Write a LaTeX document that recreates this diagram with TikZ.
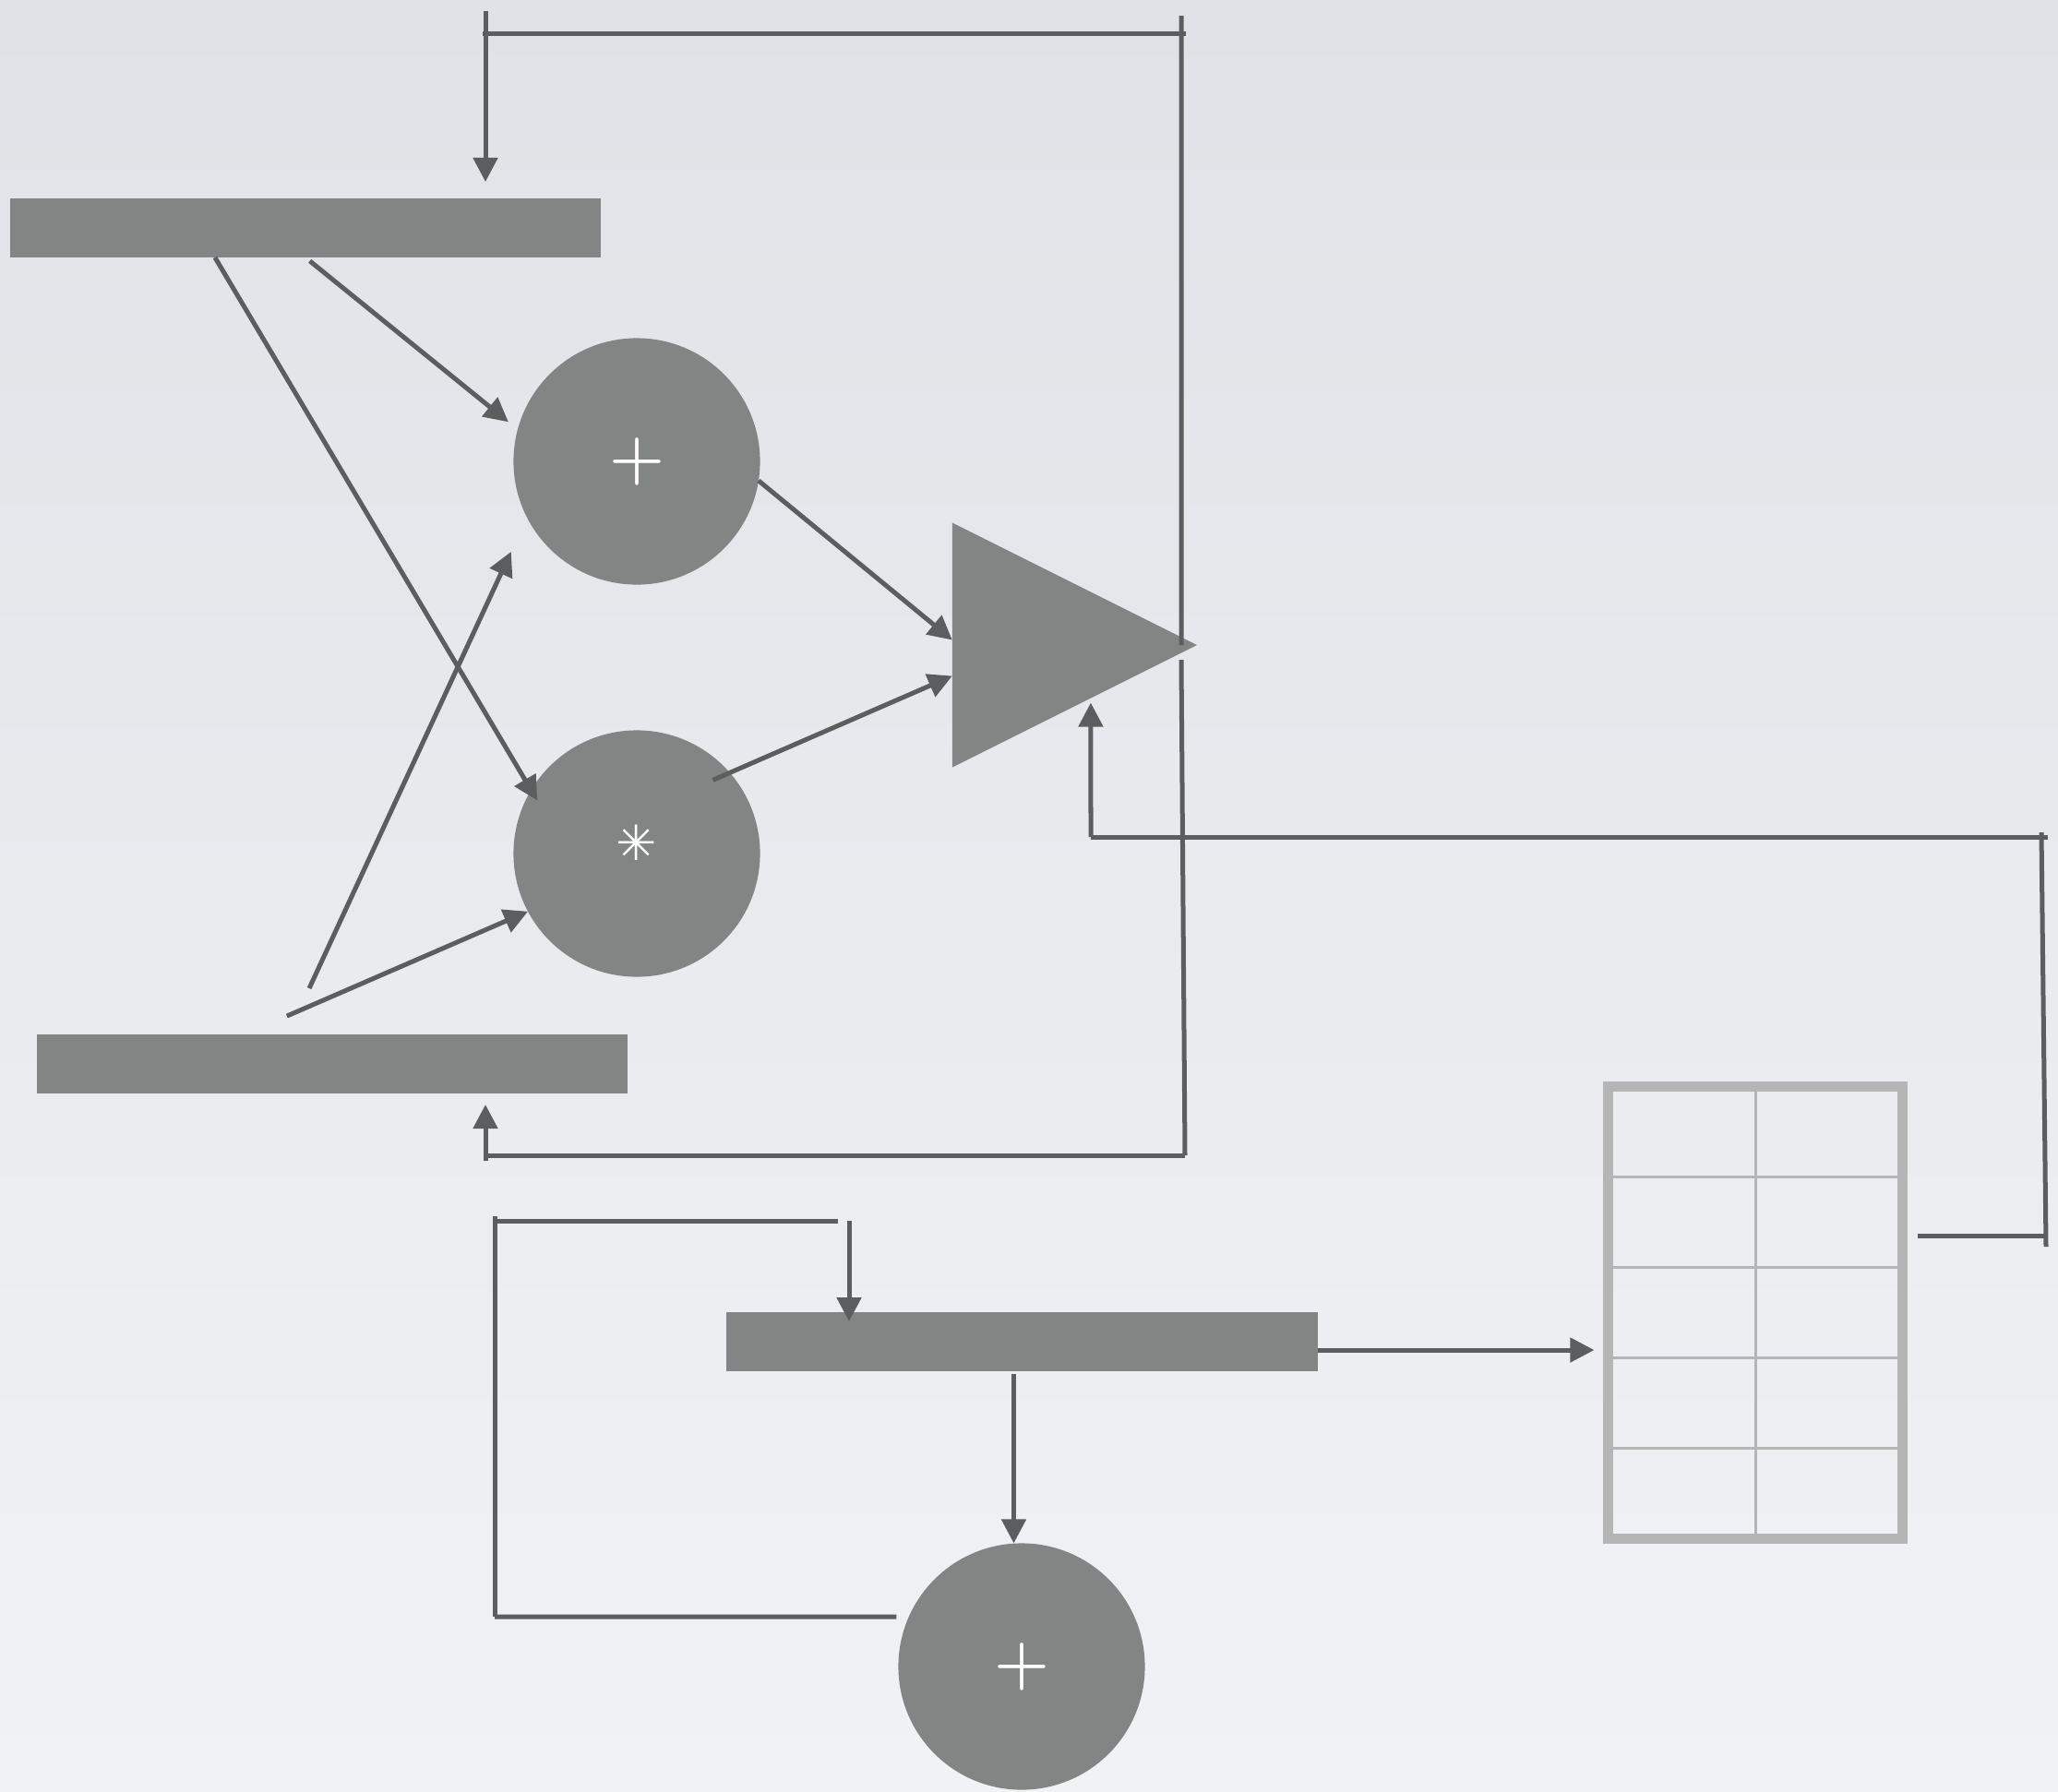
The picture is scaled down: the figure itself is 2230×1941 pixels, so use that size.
\documentclass[tikz,border=0pt]{standalone}
\usepackage{fontspec}
\usepackage{tikz}
\usetikzlibrary{positioning, shapes.geometric, arrows.meta, calc}
\newfontfamily\dejavu{DejaVu Sans}

\definecolor{blockgray}{RGB}{129,134,132}
\definecolor{wiregray}{RGB}{90,94,94}
\definecolor{cellgray}{RGB}{181,181,181}
\definecolor{bgtop}{RGB}{223,226,230}
\definecolor{bgbottom}{RGB}{241,242,246}

\tikzset{
  reg/.style   = {rectangle, fill=blockgray,
                  minimum width=6.4cm, minimum height=0.64cm,
                  inner sep=0pt, outer sep=0pt},
  op/.style    = {circle, fill=blockgray, minimum size=2.67cm,
                  inner sep=0pt, outer sep=0pt, text=white,
                  font=\bfseries\fontsize{19.5}{20}\selectfont},
  gain/.style  = {isosceles triangle, isosceles triangle stretches,
                  fill=blockgray, minimum width=2.65cm, minimum height=2.65cm,
                  inner sep=0pt, outer sep=0pt},
  tablebox/.style = {rectangle, draw=cellgray, line width=0.11cm,
                  minimum width=3.18cm, minimum height=4.9cm,
                  inner sep=0pt, outer sep=0pt},
  cellline/.style = {draw=cellgray, line width=0.03cm},
  wire/.style  = {draw=wiregray, line width=0.05cm},
  arr/.style   = {wire, -{Triangle[length=0.26cm, width=0.26cm]}},
}

\begin{document}
\begin{tikzpicture}[x=0.01cm, y=-0.01cm]

% ────────────────────────────────────────────────────────────
%  units are 0.01cm, y grows downwards (page is 2230 x 1941)
% ────────────────────────────────────────────────────────────
\fill[top color=bgtop, bottom color=bgbottom] (0, 0) rectangle (2230, 1941);

% ═══════════════════════════════════════════════════════════
%  REGISTERS
% ═══════════════════════════════════════════════════════════
\node[reg] (reg1) at (331, 247)    {};
\node[reg] (reg2) at (360, 1153)   {};
\node[reg] (reg3) at (1107.5, 1454) {};

% ═══════════════════════════════════════════════════════════
%  OPERATORS
% ═══════════════════════════════════════════════════════════
\node[op] (add1) at (690, 500)   {+};
\node[op] (mul1) at (690, 925)
  {\raisebox{0.24cm}{\dejavu\bfseries\fontsize{15}{15}\selectfont ✳}};
\node[op] (add2) at (1107, 1806) {+};

\node[gain, anchor=apex] (amp) at (1297, 699) {};

% ═══════════════════════════════════════════════════════════
%  TABLE  –  2 columns, 5 rows
% ═══════════════════════════════════════════════════════════
\node[tablebox] (mem) at (1902, 1422.5) {};
\draw[cellline] (mem.north) -- (mem.south);
\foreach \k in {1,...,4}
  \draw[cellline] ($(mem.north west)!\k/5!(mem.south west)$)
               -- ($(mem.north east)!\k/5!(mem.south east)$);

% ═══════════════════════════════════════════════════════════
%  DATA PATH
% ═══════════════════════════════════════════════════════════
\draw[arr, shorten <=0.06cm, shorten >=0.13cm] (reg1.south) -- (add1.165);
\draw[arr, shorten >=-0.13cm] ([xshift=-0.98cm]reg1.south) -- (mul1.149);
\draw[arr, shorten <=0.55cm, shorten >=0.41cm]
  ([xshift=-0.48cm]reg2.north) -- (add1.207);
\draw[arr, shorten <=0.5cm] ([xshift=-0.95cm]reg2.north) -- (mul1.208);

\draw[arr] (add1.-9.5) -- ([yshift=0.055cm]amp.west);
\draw[arr, shorten <=-0.2cm] (mul1.41) -- ([yshift=-0.335cm]amp.west);

% ── output fed back to both registers ───────────────────────
\coordinate (fbTR) at (1280, 36);
\coordinate (fbTL) at (526, 36);
\coordinate (fbBR) at (1284, 1252);
\coordinate (fbBL) at (526, 1252);

\draw[wire] ([xshift=-0.17cm]amp.apex) -- ([yshift=0.19cm]fbTR);
\draw[wire] ([xshift=0.05cm]fbTR) -- ([xshift=-0.03cm]fbTL);
\draw[arr, shorten >=0.18cm] ([yshift=0.24cm]fbTL) -- (fbTL |- reg1.north);

\draw[wire] ([xshift=-0.17cm, yshift=-0.16cm]amp.apex) -- (fbBR);
\draw[wire] (fbBR) -- (fbBL);
\draw[arr, shorten >=0.12cm] ([yshift=-0.06cm]fbBL) -- (fbBL |- reg2.south);

% ═══════════════════════════════════════════════════════════
%  LOWER LOOP
% ═══════════════════════════════════════════════════════════
\draw[arr, shorten >=0.155cm]
  ([yshift=-0.09cm]reg3.east) -- ([yshift=-0.09cm]reg3.east -| mem.west);
\draw[arr, shorten <=0.03cm]
  ([xshift=-0.09cm]reg3.south) -- ([xshift=-0.09cm]reg3.south |- add2.north);

\coordinate (lpB) at (536, 1752);
\coordinate (lpT) at (536, 1323);
\coordinate (lpR) at (920, 1323);

\draw[wire] ([shift={(-0.02cm,0.54cm)}]add2.west) -- (lpB);
\draw[wire] (lpB) -- ([yshift=0.05cm]lpT);
\draw[wire] (lpT) -- ([xshift=-0.12cm]lpR);
\draw[arr, shorten >=-0.1cm] (lpR) -- (lpR |- reg3.north);

% ── table read-back into the amplifier ──────────────────────
\coordinate (rdB) at (2217, 1339);
\coordinate (rdT) at (2212, 907);
\coordinate (rdL) at (1182, 907);

\draw[wire] ([xshift=0.165cm]mem.east |- rdB) -- (rdB);
\draw[wire] ([yshift=-0.12cm]rdB) -- ([yshift=0.05cm]rdT);
\draw[wire] ([xshift=0.07cm]rdT) -- (rdL);
\draw[arr, shorten >=0.05cm]
  (rdL) -- ($(amp.apex)!0.434!(amp.right corner)$);

\end{tikzpicture}
\end{document}
